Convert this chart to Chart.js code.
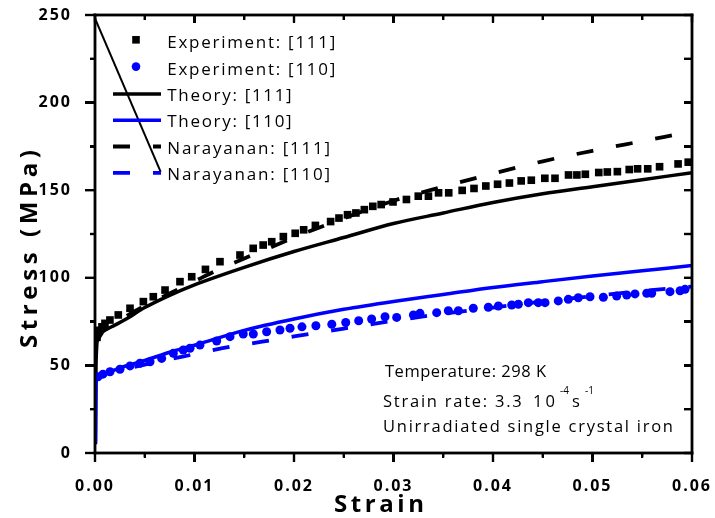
<!DOCTYPE html>
<html><head><meta charset="utf-8">
<script src="https://cdn.jsdelivr.net/npm/chart.js@4/dist/chart.umd.min.js"></script>
<style>
html,body{margin:0;padding:0;background:#fff;overflow:hidden}
#wrap{position:relative;width:715px;height:518px}
#ov{position:absolute;left:0;top:0;width:715px;height:518px;pointer-events:none}
#ov div{position:absolute;background:#000}
</style>
</head><body>
<div id="wrap">
<canvas id="c" width="715" height="518" style="width:715px;height:518px;display:block"></canvas>
<div id="ov"></div>
</div>
<script>
// ---------- data ----------
const xTicks = [0, 0.01, 0.02, 0.03, 0.04, 0.05, 0.06];
const yTicks = [0, 50, 100, 150, 200, 250];

const expStrain111 = [0.0002,0.0004,0.0007,0.001,0.0015,0.00234,0.00352,0.00486,0.00586,0.00704,0.00854,0.00972,0.0111,0.01256,0.01457,0.0159,0.0169,0.01776,0.01893,0.02012,0.02097,0.02215,0.02368,0.02452,0.02538,0.02622,0.02707,0.02792,0.02876,0.02995,0.0313,0.03249,0.03351,0.03453,0.03555,0.0369,0.03809,0.03928,0.04046,0.04165,0.04283,0.04385,0.04521,0.04623,0.04759,0.04843,0.04928,0.05063,0.05149,0.0525,0.05369,0.05453,0.05555,0.05674,0.0586,0.05962];
const expStress111 = [66,70,72,74,75.9,78.8,82.6,86.4,89.2,93,97.8,100.6,104.8,109.2,113,116.8,118.7,120.6,123.5,125.4,127.4,129.9,132.1,134.1,136,137,138.9,140.8,141.8,143.3,144.7,146.6,146.6,148.5,148.5,149.9,151,152.4,153.4,154.1,155.3,155.7,156.8,156.8,158.7,158.7,159.1,160.1,160.4,160.6,161.8,162.2,162.2,163.4,165,166];

const expStrain110 = [0.0003,0.0008,0.00151,0.00251,0.00352,0.00452,0.00553,0.0067,0.00787,0.00887,0.00955,0.01055,0.01223,0.01357,0.0149,0.01591,0.01725,0.01859,0.0196,0.0208,0.0222,0.0238,0.0252,0.0265,0.0278,0.02915,0.03032,0.032,0.03266,0.03434,0.03551,0.03652,0.03802,0.03953,0.04054,0.04188,0.04255,0.04355,0.04455,0.04523,0.04656,0.04757,0.04857,0.04975,0.05109,0.05243,0.05344,0.05427,0.05545,0.05595,0.05779,0.0588,0.0593];
const expStress110 = [43.5,45,46.4,47.8,49.7,51.2,52.1,54,56.9,58.8,59.8,61.6,63.9,66.4,67.9,67.9,69.2,70.2,71.2,72,72.6,73.5,74.5,75.5,76.5,77.8,77.4,78.8,79.7,80.1,81.2,81.2,82.6,83.2,83.9,84.5,84.9,85.8,85.8,85.8,86.8,87.7,88.6,89.2,88.9,89.6,90.2,90.8,91.2,91.2,92.1,92.6,93.4];

const thStrain111 = [0.00005,0.0001,0.0003,0.001,0.002,0.003,0.005,0.0075,0.01,0.015,0.02,0.025,0.03,0.035,0.04,0.045,0.05,0.055,0.06];
const thStress111 = [5,50,66,70,73,76,83,90,96,106,115,123,131,137,143,148,152,156,160];

const thStrain110 = [0.00005,0.0001,0.0002,0.0005,0.001,0.002,0.003,0.005,0.0075,0.01,0.015,0.02,0.025,0.03,0.035,0.04,0.045,0.05,0.055,0.06];
const thStress110 = [6,38,43,44.5,45.5,47.5,49.5,52.8,57.5,61.5,70,76.5,82,86.5,90.5,94.5,97.8,101,104,107];

const narStrain111 = [0.0002,0.001,0.0025,0.005,0.0075,0.01,0.0125,0.015,0.0175,0.02,0.025,0.03,0.035,0.04,0.045,0.05,0.055,0.06];
const narStress111 = [64,71,76,84,91,98,105,111,117,123,134,144,152,159.5,166.5,172.5,178,183.5];

const narStrain110 = [0.0002,0.001,0.0025,0.005,0.0088,0.0128,0.0168,0.02,0.025,0.03,0.035,0.04,0.045,0.05,0.055,0.06];
const narStress110 = [42,45,47,50.5,55,59.8,63.5,66.5,71,75.5,79.5,83,86.5,89.5,92.5,95];

// stray straight line seen in the original figure
const strayStrain = [0, 0.0066];
const strayStress = [248, 160.5];

const legendLabels = ['Experiment: [111]','Experiment: [110]','Theory: [111]','Theory: [110]','Narayanan: [111]','Narayanan: [110]'];

// ---------- build ----------
const pts = (xs, ys) => xs.map((x, i) => ({x, y: ys[i]}));
const BLUE = '#0000ff';
const FONT = '"Open Sans", "Noto Sans", sans-serif';

const datasets = [
  {label: legendLabels[0], data: pts(expStrain111, expStress111), showLine: false, pointStyle: 'rect', pointRadius: 5.4, pointBorderWidth: 0, backgroundColor: '#000', borderColor: '#000', order: 1},
  {label: legendLabels[1], data: pts(expStrain110, expStress110), showLine: false, pointStyle: 'circle', pointRadius: 4.5, pointBorderWidth: 0, backgroundColor: BLUE, borderColor: BLUE, order: 2},
  {label: legendLabels[2], data: pts(thStrain111, thStress111), showLine: true, pointRadius: 0, borderColor: '#000', borderWidth: 3.5, cubicInterpolationMode: 'monotone', order: 6},
  {label: legendLabels[3], data: pts(thStrain110, thStress110), showLine: true, pointRadius: 0, borderColor: BLUE, borderWidth: 3.5, cubicInterpolationMode: 'monotone', order: 5},
  {label: legendLabels[4], data: pts(narStrain111, narStress111), showLine: true, pointRadius: 0, borderColor: '#000', borderWidth: 3.8, borderDash: [17, 23], borderCapStyle: 'butt', cubicInterpolationMode: 'monotone', order: 4},
  {label: legendLabels[5], data: pts(narStrain110, narStress110), showLine: true, pointRadius: 0, borderColor: BLUE, borderWidth: 3.8, borderDash: [17, 23], borderCapStyle: 'butt', cubicInterpolationMode: 'monotone', order: 7},
  {label: '', data: pts(strayStrain, strayStress), showLine: true, pointRadius: 0, borderColor: '#000', borderWidth: 2, order: 0}
];
const legendKinds = ['rect', 'circle', 'line', 'line', 'dash', 'dash'];

function fitText(ctx, text, x, y, target, align) {
  const has = ('letterSpacing' in ctx);
  if (has) ctx.letterSpacing = '0px';
  ctx.textAlign = 'left';
  const w = ctx.measureText(text).width;
  let ls = 0;
  if (target && text.length > 1 && has) ls = Math.max(0, (target - w) / (text.length - 1));
  if (has) ctx.letterSpacing = ls.toFixed(2) + 'px';
  const total = w + ls * (text.length - 1);
  let sx = x;
  if (align === 'center') sx = x - total / 2;
  ctx.fillText(text, sx, y);
  if (has) ctx.letterSpacing = '0px';
}

// frame + tick geometry taken from the chart's own scales
function tickRects(chart) {
  const xs = chart.scales.x, ys = chart.scales.y;
  const L = xs.getPixelForValue(0), R = xs.getPixelForValue(0.06);
  const T = ys.getPixelForValue(250), B = ys.getPixelForValue(0);
  const out = [];
  const tw = 2.4, fw = 2.8;
  for (let k = 0; k <= 12; k++) {
    const px = xs.getPixelForValue(k * 0.005);
    const major = k % 2 === 0;
    out.push([px - tw / 2, B, tw, major ? 9 : 4.5]);
    out.push([px - tw / 2, T, tw, major ? 7.5 : 5]);
  }
  for (let k = 0; k <= 10; k++) {
    const py = ys.getPixelForValue(k * 25);
    const len = k % 2 === 0 ? 10 : 5;
    out.push([L - len, py - tw / 2, len, tw]);
    out.push([R - 8, py - tw / 2, 8, tw]);
  }
  out.push([L - fw / 2, T - fw / 2, R - L + fw, fw]);
  out.push([L - fw / 2, B - fw / 2, R - L + fw, fw]);
  out.push([L - fw / 2, T - fw / 2, fw, B - T + fw]);
  out.push([R - fw / 2, T - fw / 2, fw, B - T + fw]);
  return out;
}

const framePlugin = {
  id: 'frame',
  beforeDraw(chart) {
    const ctx = chart.ctx;
    if ('letterSpacing' in ctx) ctx.letterSpacing = '2px';
  },
  afterDraw(chart) {
    const ctx = chart.ctx;
    const L = chart.chartArea.left;
    ctx.save();
    if ('letterSpacing' in ctx) ctx.letterSpacing = '0px';
    ctx.fillStyle = '#000';
    ctx.textBaseline = 'alphabetic';
    ctx.font = 'bold 24px ' + FONT;
    fitText(ctx, 'Strain', 379, 511.5, 90, 'center');
    ctx.save();
    ctx.translate(36.5, 249);
    ctx.rotate(-Math.PI / 2);
    fitText(ctx, 'Stress (MPa)', 0, 0, 198, 'center');
    ctx.restore();

    ctx.font = '17px ' + FONT;
    legendKinds.forEach((kind, n) => {
      const ds = chart.data.datasets[n];
      const base = 48.3 + n * 26.3;
      const my = base - 7.5;
      if (kind === 'rect') {
        ctx.fillStyle = ds.backgroundColor;
        ctx.fillRect(L + 41 - 3.8, my - 4.8, 7.6, 7.6);
      } else if (kind === 'circle') {
        ctx.fillStyle = ds.backgroundColor;
        ctx.beginPath(); ctx.arc(L + 41, my - 0.5, 4.3, 0, Math.PI * 2); ctx.fill();
      } else {
        ctx.save();
        ctx.strokeStyle = ds.borderColor;
        ctx.lineWidth = ds.borderWidth;
        ctx.lineCap = 'butt';
        ctx.setLineDash(kind === 'dash' ? ds.borderDash : []);
        ctx.beginPath(); ctx.moveTo(L + 18, my + 0.5); ctx.lineTo(L + 66, my + 0.5); ctx.stroke();
        ctx.restore();
      }
      ctx.fillStyle = '#000';
      const target = ds.label.startsWith('Experiment') ? 168 : ds.label.startsWith('Theory') ? 124.4 : 162.7;
      fitText(ctx, ds.label, L + 72.3, base, target, 'left');
    });

    ctx.font = '16.5px ' + FONT;
    fitText(ctx, 'Temperature: 298 K', L + 290, 377, 161, 'left');
    fitText(ctx, 'Strain rate: 3.3', L + 288, 407, 138.7, 'left');
    fitText(ctx, '10', L + 438, 407, 22, 'left');
    fitText(ctx, 's', L + 477, 407, 0, 'left');
    ctx.font = '10px ' + FONT;
    fitText(ctx, '-4', L + 465, 394, 0, 'left');
    fitText(ctx, '-1', L + 490, 394, 0, 'left');
    ctx.font = '16.5px ' + FONT;
    fitText(ctx, 'Unirradiated single crystal iron', L + 288, 432, 290, 'left');
    ctx.restore();

    // frame and ticks on the canvas
    ctx.save();
    ctx.fillStyle = '#000';
    tickRects(chart).forEach(r => ctx.fillRect(r[0], r[1], r[2], r[3]));
    ctx.restore();
  }
};

const chart = new Chart(document.getElementById('c'), {
  type: 'scatter',
  data: {datasets},
  options: {
    responsive: false,
    devicePixelRatio: 1,
    animation: false,
    layout: {padding: {left: 0, right: 23, top: 15, bottom: 0}},
    plugins: {legend: {display: false}, tooltip: {enabled: false}},
    scales: {
      x: {
        type: 'linear', min: 0, max: 0.06,
        grid: {display: false}, border: {display: false},
        afterBuildTicks: s => { s.ticks = xTicks.map(v => ({value: v})); },
        ticks: {color: '#000', font: {family: FONT, size: 16, weight: 'bold'}, padding: 16, maxRotation: 0, autoSkip: false,
          callback: v => Number(v).toFixed(2)},
        afterFit: s => { s.height = 65; s.paddingLeft = 0; s.paddingRight = 0; }
      },
      y: {
        type: 'linear', min: 0, max: 250,
        grid: {display: false}, border: {display: false},
        afterBuildTicks: s => { s.ticks = yTicks.map(v => ({value: v})); },
        ticks: {color: '#000', font: {family: FONT, size: 16, weight: 'bold'}, padding: 15, autoSkip: false,
          callback: v => String(v)},
        afterFit: s => { s.width = 95; s.paddingTop = 0; s.paddingBottom = 0; }
      }
    }
  },
  plugins: [framePlugin]
});

// same frame/ticks mirrored as an overlay, positioned from the chart's scales
const ov = document.getElementById('ov');
tickRects(chart).forEach(r => {
  const d = document.createElement('div');
  d.style.left = r[0] + 'px'; d.style.top = r[1] + 'px';
  d.style.width = r[2] + 'px'; d.style.height = r[3] + 'px';
  ov.appendChild(d);
});
</script>
</body></html>
